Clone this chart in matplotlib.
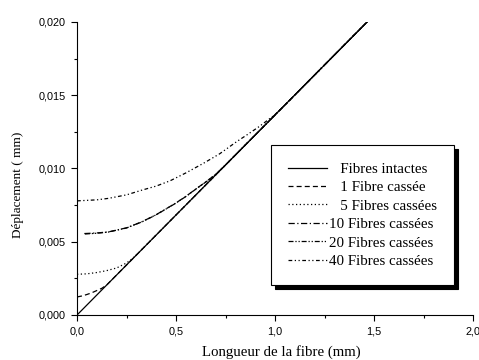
import matplotlib
matplotlib.use('Agg')
import matplotlib.pyplot as plt

# 数据
x_intact = [0.0, 1.5]
y_intact = [0.0, 0.02048]

x_1 = [0.0, 0.025, 0.05, 0.075, 0.1, 0.125, 0.15, 1.5]
y_1 = [0.00123, 0.00130, 0.00140, 0.00152, 0.00167, 0.00182, 0.00205, 0.02048]

x_5 = [0.0, 0.05, 0.1, 0.15, 0.2, 0.25, 0.28, 0.32, 1.5]
y_5 = [0.00278, 0.00281, 0.00290, 0.00303, 0.00321, 0.00355, 0.00385, 0.00437, 0.02048]

x_10 = [0.037, 0.1, 0.158, 0.25, 0.327, 0.4, 0.495, 0.55, 0.6, 0.65, 0.7, 0.75, 1.5]
y_10 = [0.00556, 0.00560, 0.00567, 0.00595, 0.00636, 0.00685, 0.00761, 0.00810,
        0.00860, 0.00908, 0.00960, 0.01024, 0.02048]

x_20 = [0.04, 0.1, 0.158, 0.25, 0.327, 0.4, 0.495, 0.55, 0.6, 0.65, 0.7, 0.75, 1.5]
y_20 = [0.00553, 0.00558, 0.00566, 0.00594, 0.00635, 0.00684, 0.00760, 0.00809,
        0.00859, 0.00907, 0.00959, 0.01024, 0.02048]

x_40 = [0.0, 0.1, 0.158, 0.25, 0.327, 0.4, 0.47, 0.55, 0.638, 0.72, 0.806, 0.87,
        0.924, 1.0, 1.05, 1.5]
y_40 = [0.00779, 0.00786, 0.00796, 0.00820, 0.00852, 0.00880, 0.00916, 0.00970,
        0.01035, 0.01100, 0.01183, 0.01240, 0.01290, 0.01368, 0.01433, 0.02048]

labels = ['   Fibres intactes', '   1 Fibre cassée', '   5 Fibres cassées',
          '10 Fibres cassées', '20 Fibres cassées', '40 Fibres cassées']

x_ticks = [0.0, 0.5, 1.0, 1.5, 2.0]
x_ticklabels = ['0,0', '0,5', '1,0', '1,5', '2,0']
y_ticks = [0.0, 0.005, 0.010, 0.015, 0.020]
y_ticklabels = ['0,000', '0,005', '0,010', '0,015', '0,020']

fig = plt.figure(figsize=(4.79, 3.6), dpi=100)
ax = fig.add_axes([0.1608, 0.125, 0.8267, 0.8139])

serif = ['Liberation Serif', 'DejaVu Serif']
sans = ['Liberation Sans', 'DejaVu Sans']

lw = 0.9
ax.plot(x_intact, y_intact, color='black', lw=lw, ls='-', label=labels[0])
ax.plot(x_1, y_1, color='black', lw=lw, ls=(0, (4, 2.5)), label=labels[1])
ax.plot(x_5, y_5, color='black', lw=lw, ls=(0, (1, 2)), label=labels[2])
ax.plot(x_10, y_10, color='black', lw=lw, ls=(0, (5, 2, 1, 2)), label=labels[3])
ax.plot(x_20, y_20, color='black', lw=lw, ls=(0, (4, 1.5, 1, 1.5, 1, 1.5)), label=labels[4])
ax.plot(x_40, y_40, color='black', lw=lw, ls=(0, (3, 2, 1, 2, 1, 2)), label=labels[5])

ax.set_xlim(0, 2.0)
ax.set_ylim(0, 0.020)

# 坐标轴样式
ax.spines['top'].set_visible(False)
ax.spines['right'].set_visible(False)
ax.set_xticks(x_ticks)
ax.set_xticklabels(x_ticklabels, family=sans, fontsize=7.8)
ax.set_yticks(y_ticks)
ax.set_yticklabels(y_ticklabels, family=sans, fontsize=7.8)
ax.set_xticks([0.25, 0.75, 1.25, 1.75], minor=True)
ax.set_yticks([0.0025, 0.0075, 0.0125, 0.0175], minor=True)
ax.tick_params(which='major', direction='out', length=4, width=0.8, pad=4)
ax.tick_params(which='minor', direction='out', length=2, width=0.8)

ax.set_xlabel('Longueur de la fibre (mm)', family=serif, fontsize=10.7, va='center')
ax.xaxis.set_label_coords(0.516, -0.126)
ax.set_ylabel('Déplacement ( mm)', family=serif, fontsize=9.5, va='center')
ax.yaxis.set_label_coords(-0.149, 0.444)

leg = ax.legend(loc='upper left', bbox_to_anchor=(0.49, 0.58), frameon=True,
                fancybox=False, edgecolor='black', framealpha=1,
                prop={'family': serif, 'size': 10.8}, handlelength=2.6,
                labelspacing=0.33, borderpad=1.15, handletextpad=0.1,
                borderaxespad=0,
                shadow={'ox': 3, 'oy': -3, 'color': 'black', 'alpha': 1})
leg.get_frame().set_linewidth(0.8)

plt.savefig('out.png', dpi=100)
plt.close()
